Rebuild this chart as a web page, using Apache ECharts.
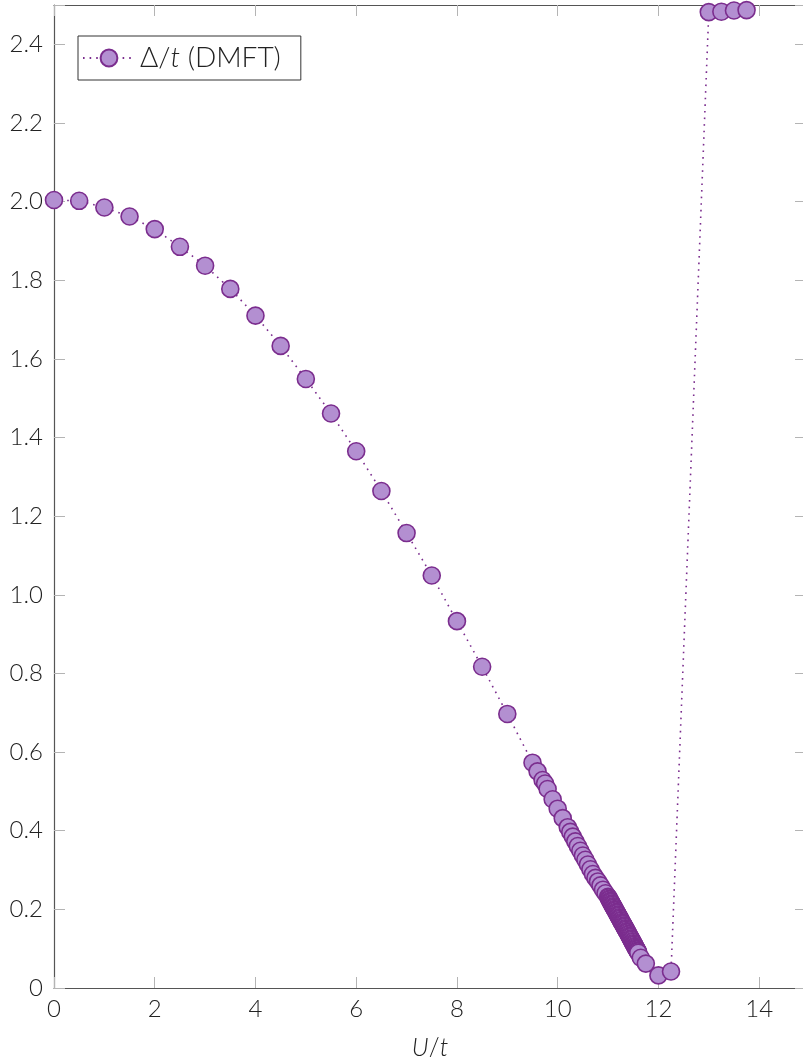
<!DOCTYPE html>
<html>
<head>
<meta charset="utf-8">
<script src="https://cdn.jsdelivr.net/npm/echarts@6/dist/echarts.min.js"></script>
<style>
  html, body { margin: 0; padding: 0; background: #fff; }
  #chart { width: 803px; height: 1061px; }
</style>
</head>
<body>
<div id="chart"></div>
<script>
// Interaction strength U/t
const uValues = [
  0, 0.5, 1, 1.5, 2, 2.5, 3, 3.5, 4, 4.5, 5, 5.5, 6, 6.5, 7, 7.5, 8, 8.5, 9,
  9.5, 9.6, 9.7, 9.75, 9.8, 9.9, 10.0, 10.1,
  10.2, 10.25, 10.3, 10.35, 10.4, 10.45, 10.5, 10.55, 10.6, 10.65, 10.7, 10.75, 10.8, 10.85, 10.9, 10.95,
  11.00, 11.01, 11.02, 11.03, 11.04, 11.05, 11.06, 11.07, 11.08, 11.09,
  11.10, 11.11, 11.12, 11.13, 11.14, 11.15, 11.16, 11.17, 11.18, 11.19,
  11.20, 11.21, 11.22, 11.23, 11.24, 11.25, 11.26, 11.27, 11.28, 11.29,
  11.30, 11.31, 11.32, 11.33, 11.34, 11.35, 11.36, 11.37, 11.38, 11.39,
  11.40, 11.41, 11.42, 11.43, 11.44, 11.45, 11.46, 11.47, 11.48, 11.49,
  11.50, 11.51, 11.52, 11.53, 11.54, 11.55, 11.56, 11.57, 11.58, 11.59, 11.60,
  11.65, 11.75, 12.0, 12.25,
  13.0, 13.25, 13.5, 13.75
];
// Gap Δ/t from DMFT
const gapValues = [
  2.004, 2.002, 1.985, 1.962, 1.930, 1.885, 1.837, 1.778, 1.710, 1.633, 1.549, 1.461, 1.365, 1.264, 1.157, 1.049, 0.933, 0.817, 0.697,
  0.573, 0.551, 0.529, 0.520, 0.506, 0.480, 0.456, 0.432,
  0.409, 0.397, 0.385, 0.373, 0.361, 0.349, 0.337, 0.326, 0.314, 0.302, 0.290, 0.280, 0.271, 0.261, 0.250, 0.241,
  0.232, 0.230, 0.227, 0.225, 0.222, 0.220, 0.218, 0.215, 0.213, 0.211,
  0.208, 0.206, 0.204, 0.201, 0.199, 0.197, 0.194, 0.192, 0.190, 0.187,
  0.185, 0.183, 0.180, 0.178, 0.176, 0.173, 0.171, 0.168, 0.166, 0.164,
  0.162, 0.159, 0.157, 0.155, 0.152, 0.150, 0.148, 0.145, 0.143, 0.141,
  0.138, 0.136, 0.133, 0.131, 0.129, 0.126, 0.124, 0.122, 0.119, 0.117,
  0.114, 0.112, 0.110, 0.107, 0.105, 0.102, 0.100, 0.098, 0.095, 0.093, 0.090,
  0.077, 0.062, 0.032, 0.042,
  2.482, 2.483, 2.486, 2.487
];
const xTicks = [0, 2, 4, 6, 8, 10, 12, 14];
const yTicks = ['0', '0.2', '0.4', '0.6', '0.8', '1.0', '1.2', '1.4', '1.6', '1.8', '2.0', '2.2', '2.4'];

const FONT = 'Lato';
const TEXT = '#222';
const AXIS = '#555';
const TICK = '#b4b4b4';
const LINE_COLOR = '#7b2d8e';
const FILL_COLOR = '#b38fd1';

const points = uValues.map((u, i) => [u, gapValues[i]]);

const tickCommon = { show: true, inside: true, length: 11, lineStyle: { color: TICK, width: 1 } };
const X_MAX = 14.93;

const chart = echarts.init(document.getElementById('chart'), null, { renderer: 'canvas' });
chart.setOption({
  animation: false,
  backgroundColor: '#fff',
  grid: { left: 54, width: 752, top: 5, bottom: 73, containLabel: false, outerBoundsMode: 'none' },
  legend: {
    left: 78, top: 36,
    orient: 'vertical',
    padding: [8, 20, 8, 4],
    borderColor: '#333', borderWidth: 1, borderRadius: 0,
    backgroundColor: '#fff',
    itemWidth: 52, itemHeight: 21, itemGap: 0,
    formatter: () => '{n|Δ/}{i|t}{n| (DMFT)}',
    textStyle: {
      rich: {
        n: { fontFamily: FONT, fontSize: 28, color: TEXT, fontWeight: 300 },
        i: { fontFamily: FONT, fontSize: 28, color: TEXT, fontStyle: 'italic', fontWeight: 300 }
      }
    },
    data: ['gap']
  },
  xAxis: [{
    type: 'value', min: 0, max: X_MAX, interval: 2,
    position: 'bottom',
    name: '{i|U}{n|/}{i|t}',
    nameLocation: 'middle', nameGap: 47,
    nameTextStyle: {
      rich: {
        i: { fontFamily: FONT, fontSize: 25, fontStyle: 'italic', color: TEXT, fontWeight: 300 },
        n: { fontFamily: FONT, fontSize: 25, color: TEXT, fontWeight: 300 }
      }
    },
    axisLine: { show: true, onZero: false, lineStyle: { color: AXIS, width: 1.2 } },
    axisTick: tickCommon,
    splitLine: { show: false },
    axisLabel: {
      margin: 9, fontFamily: FONT, fontSize: 24, color: TEXT, fontWeight: 300,
      formatter: v => xTicks.includes(v) ? String(v) : ''
    }
  }, {
    type: 'value', min: 0, max: X_MAX, interval: 2,
    position: 'top',
    axisLine: { show: true, onZero: false, lineStyle: { color: AXIS, width: 1.2 } },
    axisTick: tickCommon,
    axisLabel: { show: false },
    splitLine: { show: false }
  }],
  yAxis: [{
    type: 'value', min: 0, max: 2.5, interval: 0.2,
    axisLine: { show: true, onZero: false, lineStyle: { color: AXIS, width: 1.2 } },
    axisTick: tickCommon,
    splitLine: { show: false },
    axisLabel: {
      margin: 11, fontFamily: FONT, fontSize: 24, color: TEXT, fontWeight: 300,
      formatter: v => {
        const s = (Math.round(v * 10) / 10).toFixed(1);
        const lbl = s === '0.0' ? '0' : s;
        return yTicks.includes(lbl) ? lbl : '';
      }
    }
  }, {
    type: 'value', min: 0, max: 2.5, interval: 0.2,
    position: 'right',
    axisLine: { show: true, onZero: false, lineStyle: { color: AXIS, width: 1.2 } },
    axisTick: tickCommon,
    axisLabel: { show: false },
    splitLine: { show: false }
  }],
  series: [{
    name: 'gap',
    type: 'line',
    data: points,
    xAxisIndex: 0, yAxisIndex: 0,
    clip: false,
    symbol: 'circle',
    symbolSize: 17,
    showAllSymbol: true,
    lineStyle: { color: LINE_COLOR, width: 1.6, type: [1.6, 5] },
    itemStyle: { color: FILL_COLOR, borderColor: LINE_COLOR, borderWidth: 1.6 },
    emphasis: { disabled: true }
  }]
});
</script>
</body>
</html>
